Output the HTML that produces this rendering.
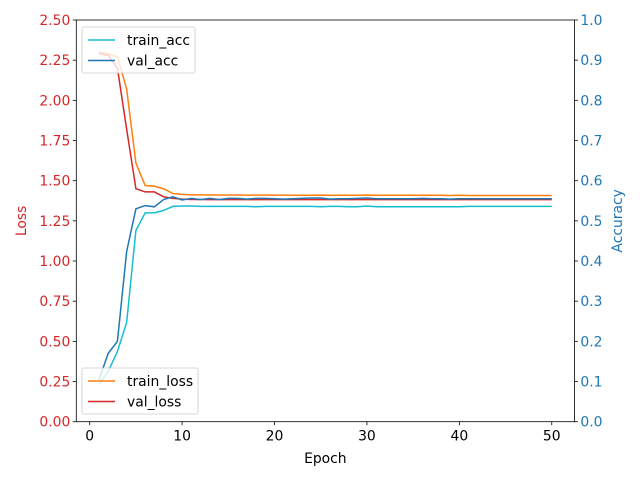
<!DOCTYPE html>
<html><head><meta charset="utf-8"><style>
body{margin:0;background:#fff;width:640px;height:480px;overflow:hidden}
svg{font-family:"DejaVu Sans","Liberation Sans",sans-serif}
</style></head><body>
<svg id="chart" width="640" height="480"></svg>
<script>
const epochs = Array.from({length:50},(_,i)=>i+1);
const trainLoss = [2.30,2.29,2.27,2.07,1.61,1.47,1.465,1.45,1.42,1.415,1.412,1.412,1.411,1.411,1.411,1.411,1.41,1.41,1.41,1.41,1.41,1.409,1.409,1.409,1.41,1.409,1.409,1.409,1.409,1.41,1.409,1.409,1.409,1.409,1.409,1.409,1.409,1.409,1.408,1.409,1.408,1.408,1.408,1.408,1.408,1.408,1.408,1.408,1.408,1.408];
const valLoss = [2.29,2.28,2.20,1.82,1.45,1.43,1.43,1.40,1.39,1.385,1.383,1.383,1.382,1.383,1.382,1.383,1.382,1.382,1.383,1.382,1.382,1.382,1.382,1.382,1.383,1.382,1.382,1.382,1.382,1.382,1.382,1.382,1.382,1.382,1.382,1.382,1.382,1.382,1.382,1.382,1.382,1.382,1.382,1.382,1.382,1.382,1.382,1.382,1.382,1.382];
const trainAcc = [0.093,0.125,0.175,0.247,0.476,0.52,0.52,0.526,0.536,0.537,0.537,0.536,0.536,0.536,0.536,0.536,0.536,0.535,0.536,0.536,0.536,0.536,0.536,0.536,0.535,0.536,0.536,0.535,0.535,0.537,0.535,0.535,0.535,0.535,0.535,0.535,0.535,0.535,0.535,0.535,0.536,0.536,0.536,0.536,0.536,0.536,0.536,0.536,0.536,0.536];
const valAcc = [0.104,0.17,0.2,0.424,0.53,0.538,0.535,0.553,0.56,0.552,0.556,0.553,0.556,0.553,0.556,0.556,0.554,0.556,0.556,0.555,0.554,0.555,0.556,0.557,0.557,0.554,0.555,0.555,0.556,0.557,0.555,0.555,0.555,0.555,0.555,0.556,0.555,0.555,0.554,0.555,0.555,0.555,0.555,0.555,0.555,0.555,0.555,0.555,0.555,0.555];
const xTicks = [0,10,20,30,40,50];
const lossTicks = [0,0.25,0.5,0.75,1.0,1.25,1.5,1.75,2.0,2.25,2.5];
const accTicks = [0,0.1,0.2,0.3,0.4,0.5,0.6,0.7,0.8,0.9,1.0];

const L=76.3,R=574.4,T=20,B=421.7;
const xMin=-1.45,xMax=52.45;
const FS=13.9;
const X=v=>L+(v-xMin)/(xMax-xMin)*(R-L);
const YL=v=>B-v/2.5*(B-T);
const YR=v=>B-v/1.0*(B-T);
const svg=document.getElementById('chart');
const NS='http://www.w3.org/2000/svg';
function mk(tag,attrs,parent){const e=document.createElementNS(NS,tag);for(const k in attrs)e.setAttribute(k,attrs[k]);(parent||svg).appendChild(e);return e;}

function series(arr,yf,color,name){
  const p=mk('polyline',{points:arr.map((v,i)=>X(epochs[i])+','+yf(v)).join(' '),fill:'none',stroke:color,'stroke-width':1.5});
  
  
}
series(trainLoss,YL,'#ff7f0e','train-loss-line');
series(valLoss,YL,'#d62728','val-loss-line');
series(trainAcc,YR,'#17becf','train-acc-line');
series(valAcc,YR,'#1f77b4','val-acc-line');

const frame=mk('rect',{x:L,y:T,width:R-L,height:B-T,fill:'none',stroke:'#000','stroke-width':0.8});



xTicks.forEach(t=>{
  mk('line',{x1:X(t),x2:X(t),y1:B,y2:B+3.5,stroke:'#000','stroke-width':0.8});
  const tx=mk('text',{x:X(t),y:B+19,'text-anchor':'middle','font-size':FS});tx.textContent=t;
  
  
});
lossTicks.forEach(t=>{
  mk('line',{x1:L,x2:L-3.5,y1:YL(t),y2:YL(t),stroke:'#000','stroke-width':0.8});
  const tx=mk('text',{x:L-6,y:YL(t)+5,'text-anchor':'end','font-size':FS,fill:'#d62728'});tx.textContent=t.toFixed(2);
  
  
});
accTicks.forEach(t=>{
  mk('line',{x1:R,x2:R+3.5,y1:YR(t),y2:YR(t),stroke:'#000','stroke-width':0.8});
  const tx=mk('text',{x:R+6,y:YR(t)+5,'text-anchor':'start','font-size':FS,fill:'#1f77b4'});tx.textContent=t.toFixed(1);
  
  
});
let t1=mk('text',{x:(L+R)/2,y:463,'text-anchor':'middle','font-size':FS});t1.textContent='Epoch';


let t2=mk('text',{x:26,y:(T+B)/2,'text-anchor':'middle','font-size':FS,fill:'#d62728',transform:`rotate(-90 26 ${(T+B)/2})`});t2.textContent='Loss';


let t3=mk('text',{x:622,y:(T+B)/2,'text-anchor':'middle','font-size':FS,fill:'#1f77b4',transform:`rotate(-90 622 ${(T+B)/2})`});t3.textContent='Accuracy';



function legend(x,y,items,w,name){
  const g=mk('g',{});
  
  
  mk('rect',{x:x,y:y,width:w,height:46,rx:2,fill:'#fff','fill-opacity':0.8,stroke:'#ccc','stroke-width':0.8},g);
  items.forEach((it,i)=>{
    const yy=y+13+i*20.5;
    mk('line',{x1:x+6,x2:x+33,y1:yy,y2:yy,stroke:it[1],'stroke-width':1.5},g);
    const tx=mk('text',{x:x+45,y:yy+5,'font-size':FS},g);tx.textContent=it[0];
    
    
  });
}
legend(82,27,[['train_acc','#17becf'],['val_acc','#1f77b4']],113,'accuracy-legend');
legend(82,368,[['train_loss','#ff7f0e'],['val_loss','#d62728']],116,'loss-legend');
</script>
</body></html>
